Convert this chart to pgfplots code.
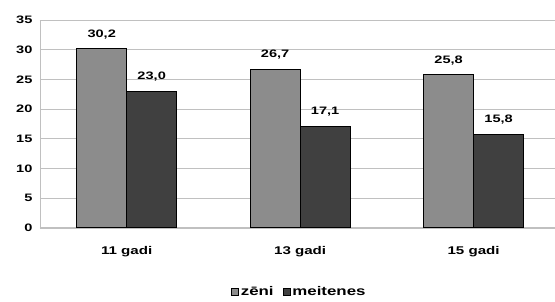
\documentclass[border=0pt]{standalone}
\usepackage{pgfplots}
\pgfplotsset{compat=1.18}
\usepackage{fontspec}
\setmainfont{Liberation Sans}[FakeStretch=1.35]
\definecolor{lightbar}{HTML}{8C8C8C}
\definecolor{darkbar}{HTML}{404040}
\definecolor{gridc}{HTML}{C0C0C0}
\begin{document}
\begin{tikzpicture}[x=1pt,y=1pt]
\begin{axis}[
  at={(0,0)}, anchor=south west,
  scale only axis,
  width=515pt, height=208pt,
  xmin=-0.5, xmax=2.467,
  ymin=0, ymax=35,
  ytick={0,5,...,35},
  xtick={0,1,2},
  xticklabels={11 gadi,13 gadi,15 gadi},
  ymajorgrids,
  major grid style={gridc, line width=0.6pt},
  axis x line*=bottom,
  axis y line*=left,
  axis line style={gridc, line width=0.8pt, -},
  x axis line style={gridc},
  tick style={gridc, line width=0.8pt},
  major tick length=3pt,
  xtick style={draw=none},
  ytick pos=left,
  /pgf/number format/assume math mode=true,
  tick label style={font=\bfseries\fontsize{10.8}{12}\selectfont, text=black},
  xticklabel style={font=\bfseries\fontsize{11.2}{13}\selectfont, yshift=-12pt},
  yticklabel style={xshift=-4pt},
  ybar, bar width=50pt,
  nodes near coords={\pgfmathprintnumber[fixed,fixed zerofill,precision=1,use comma]{\pgfplotspointmeta}},
  every node near coord/.append style={font=\bfseries\fontsize{10.8}{12}\selectfont, text=black, yshift=6pt},
  legend style={at={(0.5,0)}, anchor=center, yshift=-64pt, xshift=2pt, draw=none, fill=none,
     font=\bfseries\fontsize{12.5}{14}\selectfont, legend columns=2,
     /tikz/every even column/.append style={column sep=7pt}},
  legend image code/.code={\draw[#1, draw=black] (0pt,-3.5pt) rectangle (7pt,3.5pt);},
  clip=false,
]
\addplot[fill=lightbar, draw=black, line width=0.8pt, bar shift=-25pt] coordinates {(0,30.2) (1,26.7) (2,25.8)};
\addplot[fill=darkbar, draw=black, line width=0.8pt, bar shift=25pt] coordinates {(0,23.0) (1,17.1) (2,15.8)};
\legend{zēni, meitenes}
\end{axis}
\path[use as bounding box] (-40,-69) rectangle (515,228);
\end{tikzpicture}
\end{document}
